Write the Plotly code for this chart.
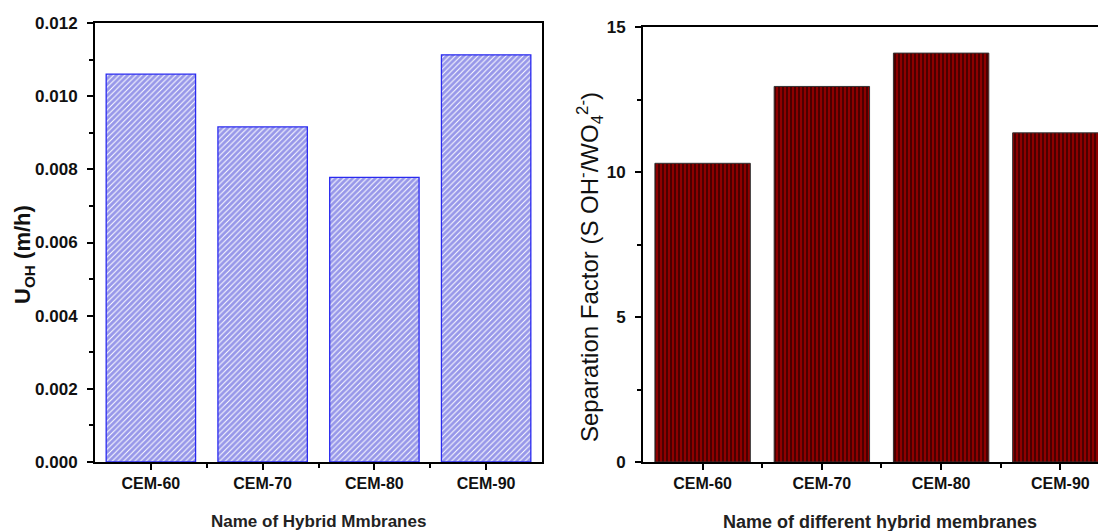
import plotly.graph_objects as go

# ---- data ----
categories = ["CEM-60", "CEM-70", "CEM-80", "CEM-90"]
u_oh = [0.0106, 0.00916, 0.00778, 0.01113]
sep_factor = [10.3, 12.95, 14.1, 11.35]
left_yticks = [0.000, 0.002, 0.004, 0.006, 0.008, 0.010, 0.012]
right_yticks = [0, 5, 10, 15]

W, H = 1106, 531
OFF = 8  # page body margin offset


def fx(px):
    return (px - OFF) / W


def fy(py):
    return 1 - (py - OFF) / H


xpos = list(range(len(categories)))

FONT = "Liberation Sans, Arial, sans-serif"
xtickfont = dict(family=FONT, size=16, color="#111111", weight="bold")
ytickfont = dict(family=FONT, size=17, color="#111111", weight="bold")

fig = go.Figure()

fig.add_trace(go.Bar(
    x=xpos, y=u_oh, width=0.8, xaxis="x", yaxis="y",
    marker=dict(
        color="white",
        line=dict(color="#2a2af0", width=1.3),
        pattern=dict(shape="/", fgcolor="#3030d4", bgcolor="white", size=4, solidity=0.75),
    ),
    showlegend=False,
))

fig.add_trace(go.Bar(
    x=xpos, y=sep_factor, width=0.8, xaxis="x2", yaxis="y2",
    marker=dict(
        color="#4a0000",
        line=dict(color="#333333", width=1),
        pattern=dict(shape="|", fgcolor="#e00000", bgcolor="#4a0000", size=4, solidity=0.45),
    ),
    showlegend=False,
))

axis_common = dict(
    showline=True, linecolor="black", linewidth=2,
    ticks="outside", ticklen=6, tickwidth=2, tickcolor="black",
    showgrid=False, zeroline=False, automargin=False,
)
minor_x = dict(tickmode="array", tickvals=[0.5, 1.5, 2.5], ticks="outside",
               ticklen=4, tickwidth=1.5, tickcolor="black")

fig.update_layout(
    width=W, height=H,
    margin=dict(l=0, r=0, t=0, b=0),
    paper_bgcolor="white", plot_bgcolor="white",
    xaxis=dict(
        domain=[fx(95), fx(542)], anchor="y", range=[-0.5, 3.5],
        tickmode="array", tickvals=xpos, ticktext=categories, mirror=True,
        minor=minor_x, tickfont=xtickfont, **axis_common,
    ),
    yaxis=dict(
        domain=[fy(462), fy(23)], anchor="x", range=[0, 0.012],
        tickmode="array", tickvals=left_yticks, tickformat=".3f", mirror=True,
        minor=dict(dtick=0.001, ticks="outside", ticklen=4, tickwidth=1.5, tickcolor="black"),
        tickfont=ytickfont, ticklabelstandoff=6, **axis_common,
    ),
    xaxis2=dict(
        domain=[fx(643), 1.0], anchor="y2", range=[-0.5, 3.45],
        tickmode="array", tickvals=xpos, ticktext=categories, mirror=True,
        minor=minor_x, tickfont=xtickfont, **axis_common,
    ),
    yaxis2=dict(
        domain=[fy(462), fy(27)], anchor="x2", range=[0, 15],
        tickmode="array", tickvals=right_yticks, mirror=False,
        minor=dict(dtick=2.5, ticks="outside", ticklen=4, tickwidth=1.5, tickcolor="black"),
        tickfont=ytickfont, ticklabelstandoff=6, **axis_common,
    ),
)

fig.add_annotation(
    text="U<sub>OH</sub> (m/h)", textangle=-90,
    xref="paper", yref="paper", x=fx(24), y=fy(255), xanchor="center", yanchor="middle",
    showarrow=False, font=dict(family=FONT, size=22, color="#111111", weight="bold"),
)
fig.add_annotation(
    text="Separation Factor (S OH<sup>-</sup>/WO<sub>4</sub><sup>2-</sup>)", textangle=-90,
    xref="paper", yref="paper", x=fx(590), y=fy(267), xanchor="center", yanchor="middle",
    showarrow=False, font=dict(family=FONT, size=24, color="#111111"),
)
fig.add_annotation(
    text="Name of Hybrid Mmbranes",
    xref="paper", yref="paper", x=fx(318), y=fy(521), xanchor="center", yanchor="middle",
    showarrow=False, font=dict(family=FONT, size=17, color="#222222", weight="bold"),
)
fig.add_annotation(
    text="Name of different hybrid membranes",
    xref="paper", yref="paper", x=fx(880), y=fy(522), xanchor="center", yanchor="middle",
    showarrow=False, font=dict(family=FONT, size=18, color="#222222", weight="bold"),
)

fig.write_html("out.html")
